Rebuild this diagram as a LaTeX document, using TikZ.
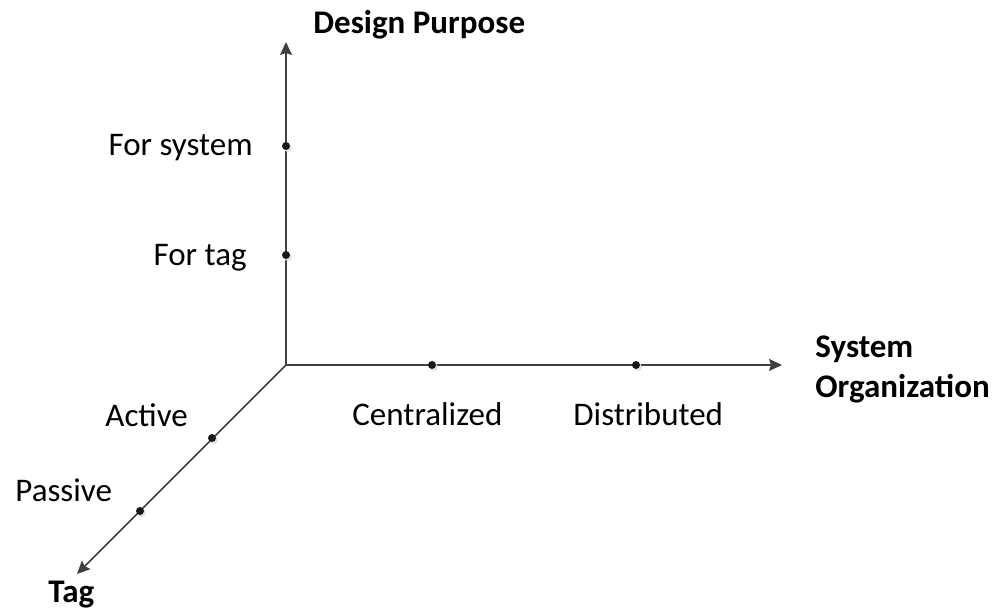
\documentclass[tikz,border=0pt]{standalone}
\usepackage{fontspec}
\setmainfont{Carlito}
\usetikzlibrary{positioning,arrows.meta,shadows}

\definecolor{axisgray}{HTML}{404040}

\begin{document}
\begin{tikzpicture}[x=0.5pt,y=-0.5pt,font=\fontsize{16.5pt}{20pt}\selectfont,
  axis/.style={draw=axisgray,line width=0.75pt,-{Stealth[length=6.5pt,width=6pt,inset=1pt]}},
  tick/.style={circle,fill=black!90,inner sep=0pt,minimum size=4pt,
    drop shadow={shadow xshift=0.9pt,shadow yshift=-1pt,fill=black!12,opacity=1}},
  lbl/.style={inner sep=0pt}]
\useasboundingbox (0,0) rectangle (999,613);
% origin and axis ends
\coordinate (O) at (286,365);
\coordinate (purpose) at (286,42);
\coordinate (organization) at (782,365);
\coordinate (tag) at (77,574);
\draw[axis] (O) -- (purpose);
\draw[axis] (O) -- (organization);
\draw[axis] (O) -- (tag);
% points on the axes
\node[tick] (forsystem) at (286,146) {};
\node[tick] (fortag) at (286,255) {};
\node[tick] (central) at (432,365) {};
\node[tick] (distrib) at (636,365) {};
\node[tick] (active) at (212,438) {};
\node[tick] (passive) at (140,511) {};
% axis names
\node[lbl,anchor=base west,font=\fontsize{16.5pt}{20pt}\selectfont\bfseries] at (313,34) {Design Purpose};
\node[lbl,anchor=north west,align=left,font=\fontsize{16.5pt}{20pt}\selectfont\bfseries] at (815,335) {System\\Organization};
\node[lbl,anchor=base west,font=\fontsize{16.5pt}{20pt}\selectfont\bfseries] at (48,602) {Tag};
% values
\node[lbl,anchor=base east] at (253,156) {For system};
\node[lbl,anchor=base east] at (247,266) {For tag};
\node[lbl,anchor=base west] at (352,426) {Centralized};
\node[lbl,anchor=base west] at (573,426) {Distributed};
\node[lbl,anchor=base west] at (105,427) {Active};
\node[lbl,anchor=base west] at (15,502) {Passive};
\end{tikzpicture}
\end{document}
